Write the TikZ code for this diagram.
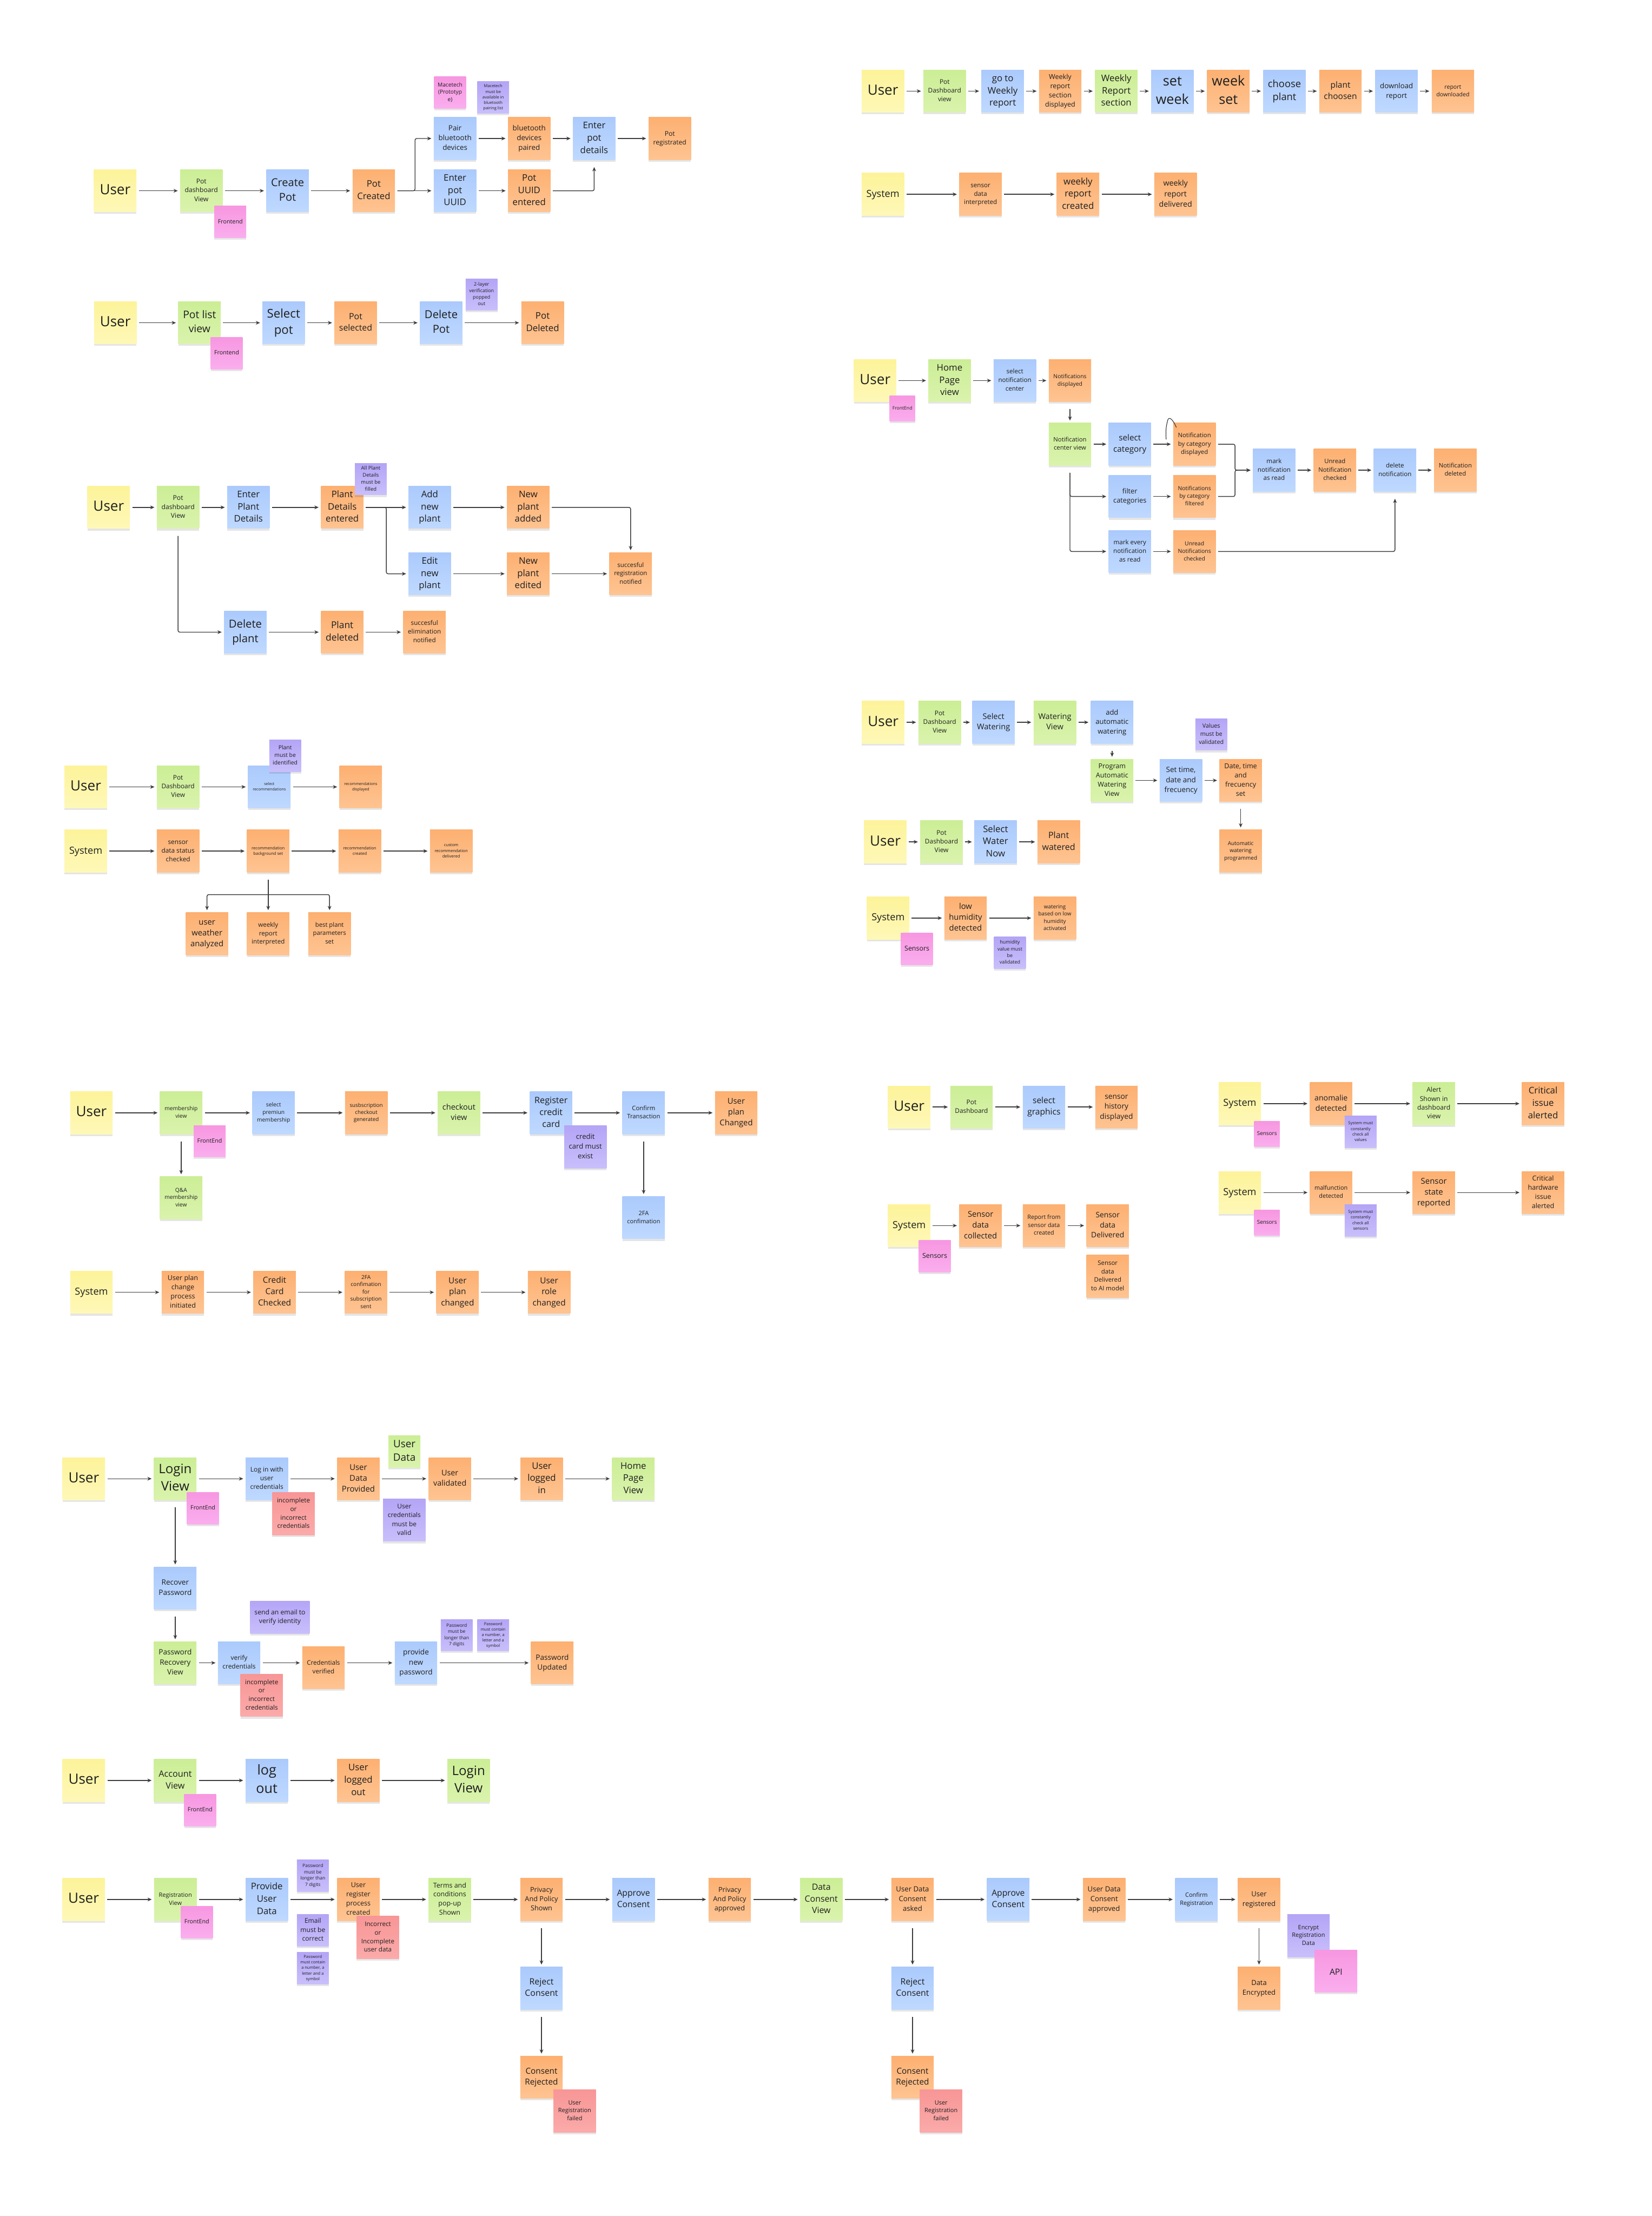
\documentclass[tikz,border=0pt]{standalone}
\usepackage{fontspec}
\setmainfont{Open Sans}
\usepackage{graphicx}
\usetikzlibrary{arrows.meta,shadows,calc}
\definecolor{yT}{HTML}{FDF39A}\definecolor{yB}{HTML}{FEF8B8}
\definecolor{gT}{HTML}{CCEE96}\definecolor{gB}{HTML}{DAF3AD}
\definecolor{bT}{HTML}{ABCAFC}\definecolor{bB}{HTML}{BFD9FF}
\definecolor{oT}{HTML}{FDB071}\definecolor{oB}{HTML}{FEC492}
\definecolor{pT}{HTML}{F797E1}\definecolor{pB}{HTML}{FAAEEE}
\definecolor{vT}{HTML}{B4A5F6}\definecolor{vB}{HTML}{C9BFFB}
\definecolor{sT}{HTML}{F89696}\definecolor{sB}{HTML}{FBAAAA}
\definecolor{txt}{HTML}{1E1E1E}
\definecolor{lnc}{HTML}{3C3C3C}
\newsavebox\nbox
\newdimen\nbw \newdimen\nbh
\newcommand\fitwh[3]{%
  \sbox\nbox{\fontsize{10}{13.5}\selectfont\begin{tabular}{@{}c@{}}#3\end{tabular}}%
  \nbw=\wd\nbox \nbh=\ht\nbox \advance\nbh by \dp\nbox
  \pgfmathsetmacro\nsc{min(1,(#1)/\nbw,(#2)/\nbh)}%
  \scalebox{\nsc}{\usebox\nbox}}
\tikzset{
  note/.style={rectangle, inner sep=0pt, minimum width=#1pt, minimum height=#1pt, text=txt,
    drop shadow={shadow xshift=0pt,shadow yshift=-1.4pt,opacity=0.10,fill=black}},
  cY/.style={top color=yT,bottom color=yB},
  cG/.style={top color=gT,bottom color=gB},
  cB/.style={top color=bT,bottom color=bB},
  cO/.style={top color=oT,bottom color=oB},
  cP/.style={top color=pT,bottom color=pB},
  cV/.style={top color=vT,bottom color=vB},
  cS/.style={top color=sT,bottom color=sB},
  ln/.style={draw=lnc, line width=0.55pt, rounded corners=1.2pt},
  arr/.style={ln, -{Stealth[length=3pt,width=2.6pt]}, shorten <=1.5pt, shorten >=1.5pt},
  arr0/.style={arr, shorten <=0pt},
  varr/.style={arr, shorten <=5pt},
}
\newcommand\stk[5][30]{\node[note=#1,#2] (#3) at (#4) {\fitwh{0.78*#1}{0.867*#1}{#5}};}
\begin{document}
\begin{tikzpicture}[x=1pt,y=-1pt]
\fill[white] (0,0) rectangle (1169,1568);
\useasboundingbox (0,0) rectangle (1169,1568);
% ---------------- Group A
\stk{cY}{a1}{81.5,135}{User}
\stk{cG}{a2}{142.5,135}{Pot\\dashboard\\View}
\stk{cB}{a3}{203.5,135}{Create\\Pot}
\stk{cO}{a4}{264.5,135}{Pot\\Created}
\stk{cB}{a5}{322,98}{Pair\\bluetooth\\devices}
\stk{cB}{a6}{322,135}{Enter\\pot\\UUID}
\stk{cO}{a7}{374.5,98}{bluetooth\\devices\\paired}
\stk{cO}{a8}{374.5,135}{Pot\\UUID\\entered}
\stk{cB}{a9}{420.5,98}{Enter\\pot\\details}
\stk{cO}{a10}{474,98}{Pot\\registrated}
\stk[22.5]{cP}{a11}{163,157}{Frontend}
\stk[22.5]{cP}{a12}{318.5,65.5}{Macetech\\(Prototyp\\e)}
\stk[22.5]{cV}{a13}{349,69}{Macetech\\must be\\available in\\bluetooth\\pairing list}
% ---------------- Group B
\stk{cY}{b1}{624.8,64.5}{User}
\stk{cG}{b2}{668.5,64.5}{Pot\\Dashboard\\view}
\stk{cB}{b3}{709.6,64.5}{go to\\Weekly\\report}
\stk{cO}{b4}{750.3,64.5}{Weekly\\report\\section\\displayed}
\stk{cG}{b5}{790,64.5}{Weekly\\Report\\section}
\stk{cB}{b6}{829.7,64.5}{set\\week}
\stk{cO}{b7}{869.3,64.5}{week\\set}
\stk{cB}{b8}{909,64.5}{choose\\plant}
\stk{cO}{b9}{948.6,64.5}{plant\\choosen}
\stk{cB}{b10}{988.3,64.5}{download\\report}
\stk{cO}{b11}{1028.2,64.5}{report\\downloaded}
\stk{cY}{b12}{624.8,137.5}{System}
\stk{cO}{b13}{693.9,137.5}{sensor\\data\\interpreted}
\stk{cO}{b14}{762.9,137.5}{weekly\\report\\created}
\stk{cO}{b15}{831.9,137.5}{weekly\\report\\delivered}
% ---------------- Group C
\stk{cY}{c1}{81.6,228.4}{User}
\stk{cG}{c2}{141.2,228.4}{Pot list\\view}
\stk{cB}{c3}{200.7,228.4}{Select\\pot}
\stk{cO}{c4}{251.7,228.4}{Pot\\selected}
\stk{cB}{c5}{312.2,228.4}{Delete\\Pot}
\stk{cO}{c6}{384,228.4}{Pot\\Deleted}
\stk[22.5]{cP}{c7}{160.4,250}{Frontend}
\stk[22.5]{cV}{c8}{340.8,208.4}{2-layer\\verification\\popped\\out}
% ---------------- Group D
\stk{cY}{d1}{619.3,269.3}{User}
\stk{cG}{d2}{672,269.3}{Home\\Page\\view}
\stk{cB}{d3}{718.2,269.3}{select\\notification\\center}
\stk{cO}{d4}{757.2,269.3}{Notifications\\displayed}
\stk{cG}{d5}{757.2,314.3}{Notification\\center view}
\stk{cB}{d6}{799.6,314.3}{select\\category}
\stk{cO}{d7}{845.3,314.3}{Notification\\by category\\displayed}
\stk{cB}{d8}{799.6,351.3}{filter\\categories}
\stk{cO}{d9}{845.3,351.3}{Notifications\\by category\\filtered}
\stk{cB}{d10}{799.6,390.2}{mark every\\notification\\as read}
\stk{cO}{d11}{845.3,390.2}{Unread\\Notifications\\checked}
\stk{cB}{d12}{901.7,332.7}{mark\\notification\\as read}
\stk{cO}{d13}{944.7,332.7}{Unread\\Notification\\checked}
\stk{cB}{d14}{987.2,332.7}{delete\\notification}
\stk{cO}{d15}{1029.9,332.7}{Notification\\deleted}
\stk[18]{cP}{d16}{638.6,289}{FrontEnd}
% ---------------- Group E
\stk{cY}{e1}{76.9,359}{User}
\stk{cG}{e2}{126,359}{Pot\\dashboard\\View}
\stk{cB}{e3}{175.8,359}{Enter\\Plant\\Details}
\stk{cO}{e4}{242.2,359}{Plant\\Details\\entered}
\stk{cB}{e5}{304.1,359}{Add\\new\\plant}
\stk{cO}{e6}{373.8,359}{New\\plant\\added}
\stk{cB}{e7}{304.1,406}{Edit\\new\\plant}
\stk{cO}{e8}{373.8,406}{New\\plant\\edited}
\stk{cO}{e9}{446.3,406}{succesful\\registration\\notified}
\stk{cB}{e10}{173.6,447.3}{Delete\\plant}
\stk{cO}{e11}{242.2,447.3}{Plant\\deleted}
\stk{cO}{e12}{300.4,447.3}{succesful\\elimination\\notified}
\stk[22.5]{cV}{e13}{262.4,339}{All Plant\\Details\\must be\\filled}
% ---------------- Group F
\stk{cY}{f1}{60.7,556.8}{User}
\stk{cG}{f2}{126,556.8}{Pot\\Dashboard\\View}
\stk{cB}{f3}{190.6,556.8}{select\\recommendations}
\stk{cO}{f4}{255.3,556.8}{recommendations\\displayed}
\stk[22.5]{cV}{f5}{201.8,534.7}{Plant\\must be\\identified}
\stk{cY}{f6}{60.7,602.2}{System}
\stk{cO}{f7}{126,602.2}{sensor\\data status\\checked}
\stk{cO}{f8}{189.8,602.2}{recommendation\\background set}
\stk{cO}{f9}{254.6,602.2}{recommendation\\created}
\stk{cO}{f10}{319.3,602.2}{custom\\recommendation\\delivered}
\stk{cO}{f11}{146.5,660.7}{user\\weather\\analyzed}
\stk{cO}{f12}{189.8,660.7}{weekly\\report\\interpreted}
\stk{cO}{f13}{233.2,660.7}{best plant\\parameters\\set}
% ---------------- Group G
\stk{cY}{g1}{625,511.1}{User}
\stk{cG}{g2}{665,511.1}{Pot\\Dashboard\\View}
\stk{cB}{g3}{703.1,511.1}{Select\\Watering}
\stk{cG}{g4}{746.5,511.1}{Watering\\View}
\stk{cB}{g5}{787,511.1}{add\\automatic\\watering}
\stk{cG}{g6}{787,552.2}{Program\\Automatic\\Watering\\View}
\stk{cB}{g7}{835.7,552.2}{Set time,\\date and\\frecuency}
\stk{cO}{g8}{878,552.2}{Date, time\\and\\frecuency\\set}
\stk{cO}{g9}{878,602.2}{Automatic\\watering\\programmed}
\stk[22.5]{cV}{g10}{857.2,519.7}{Values\\must be\\validated}
\stk{cY}{g11}{626.5,595.7}{User}
\stk{cG}{g12}{666.3,595.7}{Pot\\Dashboard\\View}
\stk{cB}{g13}{704.5,595.7}{Select\\Water\\Now}
\stk{cO}{g14}{749.2,595.7}{Plant\\watered}
\stk{cY}{g15}{628.5,649.6}{System}
\stk{cO}{g16}{683.3,649.6}{low\\humidity\\detected}
\stk{cO}{g17}{746.5,649.6}{watering\\based on low\\humidity\\activated}
\stk[22.5]{cP}{g18}{648.9,671.5}{Sensors}
\stk[22.5]{cV}{g19}{714.7,674}{humidity\\value must\\be\\validated}
% ---------------- Group H
\stk{cY}{h1}{64.7,787.4}{User}
\stk{cG}{h2}{128.2,787.4}{membership\\view}
\stk{cB}{h3}{193.6,787.4}{select\\premiun\\membership}
\stk{cO}{h4}{259.2,787.4}{susbscription\\checkout\\generated}
\stk{cG}{h5}{324.8,787.4}{checkout\\view}
\stk{cB}{h6}{390,787.4}{Register\\credit\\card}
\stk{cB}{h7}{455.5,787.4}{Confirm\\Transaction}
\stk{cO}{h8}{521,787.4}{User\\plan\\Changed}
\stk{cG}{h9}{128.2,847.6}{Q\&A\\membership\\view}
\stk{cB}{h10}{455.5,861.6}{2FA\\confimation}
\stk[22.5]{cP}{h11}{148.4,807.5}{FrontEnd}
\stk{cV}{h12}{414.3,811.6}{credit\\card must\\exist}
\stk{cY}{h13}{64.7,914.4}{System}
\stk{cO}{h14}{129.4,914.4}{User plan\\change\\process\\initiated}
\stk{cO}{h15}{194.3,914.4}{Credit\\Card\\Checked}
\stk{cO}{h16}{259,914.4}{2FA\\confimation\\for\\subscription\\sent}
\stk{cO}{h17}{323.8,914.4}{User\\plan\\changed}
\stk{cO}{h18}{388.6,914.4}{User\\role\\changed}
% ---------------- Group I
\stk{cY}{i1}{643.4,783.3}{User}
\stk{cG}{i2}{687.5,783.3}{Pot\\Dashboard}
\stk{cB}{i3}{738.8,783.3}{select\\graphics}
\stk{cO}{i4}{790.1,783.3}{sensor\\history\\displayed}
\stk{cY}{i5}{643.4,867.2}{System}
\stk{cO}{i6}{693.9,867.2}{Sensor\\data\\collected}
\stk{cO}{i7}{738.8,867.2}{Report from\\sensor data\\created}
\stk{cO}{i8}{783.9,867.2}{Sensor\\data\\Delivered}
\stk{cO}{i9}{783.9,903}{Sensor\\data\\Delivered\\to AI model}
\stk[22.5]{cP}{i10}{661.5,888.8}{Sensors}
\stk{cY}{i11}{877.4,780.9}{System}
\stk{cO}{i12}{942,780.9}{anomalie\\detected}
\stk{cG}{i13}{1014.7,780.9}{Alert\\Shown in\\dashboard\\view}
\stk{cO}{i14}{1092,780.9}{Critical\\issue\\alerted}
\stk[18]{cP}{i15}{896.6,802.3}{Sensors}
\stk[22.5]{cV}{i16}{962.9,800.9}{System must\\constantly\\check all\\values}
\stk{cY}{i17}{877.4,843.8}{System}
\stk{cO}{i18}{942,843.8}{malfunction\\detected}
\stk{cO}{i19}{1014.7,843.8}{Sensor\\state\\reported}
\stk{cO}{i20}{1092,843.8}{Critical\\hardware\\issue\\alerted}
\stk[18]{cP}{i21}{896.6,865.1}{Sensors}
\stk[22.5]{cV}{i22}{962.9,863.6}{System must\\constantly\\check all\\sensors}
% ---------------- Group J
\stk{cY}{j1}{59.3,1046.3}{User}
\stk{cG}{j2}{124,1046.3}{Login\\View}
\stk{cB}{j3}{188.8,1046.3}{Log in with\\user\\credentials}
\stk{cO}{j4}{253.6,1046.3}{User\\Data\\Provided}
\stk{cO}{j5}{318.4,1046.3}{User\\validated}
\stk{cO}{j6}{383.4,1046.3}{User\\logged\\in}
\stk{cG}{j7}{448.2,1046.3}{Home\\Page\\View}
\stk[22.5]{cP}{j8}{143.6,1067.2}{FrontEnd}
\stk{cS}{j9}{207.7,1071.1}{incomplete\\or\\incorrect\\credentials}
\stk[22.5]{cG}{j10}{286.2,1027.1}{User\\Data}
\stk{cV}{j11}{286.1,1075.6}{User\\credentials\\must be\\valid}
\stk{cB}{j12}{124,1123.7}{Recover\\Password}
\stk{cG}{j13}{124,1176.6}{Password\\Recovery\\View}
\stk{cB}{j14}{169.2,1176.6}{verify\\credentials}
\stk{cO}{j15}{228.9,1180}{Credentials\\verified}
\stk{cB}{j16}{294.4,1176.6}{provide\\new\\password}
\stk{cO}{j17}{390.8,1176.6}{Password\\Updated}
\stk{cS}{j18}{185.2,1199.6}{incomplete\\or\\incorrect\\credentials}
\node[note=23,minimum width=42pt,cV] (j19) at (198.1,1144.3) {\fitwh{36}{19.5}{send an email to\\verify identity}};
\stk[22.5]{cV}{j20}{323.2,1157}{Password\\must be\\longer than\\7 digits}
\stk[22.5]{cV}{j21}{349,1157}{Password\\must contain\\a number, a\\letter and a\\symbol}
\stk{cY}{j22}{59.3,1259.8}{User}
\stk{cG}{j23}{124,1259.8}{Account\\View}
\stk{cB}{j24}{188.8,1259.8}{log\\out}
\stk{cO}{j25}{253.6,1259.8}{User\\logged\\out}
\stk{cG}{j26}{331.6,1259.8}{Login\\View}
\stk[22.5]{cP}{j27}{141.6,1280.9}{FrontEnd}
% ---------------- Group K
\stk{cY}{k1}{59.2,1344}{User}
\stk{cG}{k2}{124.1,1344}{Registration\\View}
\stk{cB}{k3}{188.8,1344}{Provide\\User\\Data}
\stk{cO}{k4}{253.6,1344}{User\\register\\process\\created}
\stk{cG}{k5}{318.3,1344}{Terms and\\conditions\\pop-up\\Shown}
\stk{cO}{k6}{383.2,1344}{Privacy\\And Policy\\Shown}
\stk{cB}{k7}{448.3,1344}{Approve\\Consent}
\stk{cO}{k8}{516.4,1344}{Privacy\\And Policy\\approved}
\stk{cG}{k9}{581.2,1344}{Data\\Consent\\View}
\stk{cO}{k10}{645.8,1344}{User Data\\Consent\\asked}
\stk{cB}{k11}{713.5,1344}{Approve\\Consent}
\stk{cO}{k12}{781.4,1344}{User Data\\Consent\\approved}
\stk{cB}{k13}{846.7,1344}{Confirm\\Registration}
\stk{cO}{k14}{891,1344}{User\\registered}
\stk{cB}{k15}{383.2,1406.8}{Reject\\Consent}
\stk{cO}{k16}{383.2,1469.8}{Consent\\Rejected}
\stk{cB}{k17}{645.8,1406.8}{Reject\\Consent}
\stk{cO}{k18}{645.8,1469.8}{Consent\\Rejected}
\stk{cO}{k19}{891,1406.8}{Data\\Encrypted}
\stk[22.5]{cP}{k20}{139.3,1360}{FrontEnd}
\stk[22.5]{cV}{k21}{221.4,1327.1}{Password\\must be\\longer than\\7 digits}
\stk[22.5]{cV}{k22}{221.4,1365.8}{Email\\must be\\correct}
\stk[22.5]{cV}{k23}{221.4,1392.6}{Password\\must contain\\a number, a\\letter and a\\symbol}
\stk{cS}{k24}{267.4,1370.9}{Incorrect\\or\\Incomplete\\user data}
\stk{cS}{k25}{406.7,1493.7}{User\\Registration\\failed}
\stk{cS}{k26}{666,1493.7}{User\\Registration\\failed}
\stk{cV}{k27}{926,1369.7}{Encrypt\\Registration\\Data}
\stk{cP}{k28}{945.5,1394.8}{\scalebox{0.6}{API}}
% ================= connectors
\foreach \p/\q in {a1/a2,a2/a3,a3/a4,a4/a6,a5/a7,a7/a9,a6/a8,a9/a10,
  b1/b2,b2/b3,b3/b4,b4/b5,b5/b6,b6/b7,b7/b8,b8/b9,b9/b10,b10/b11,b12/b13,b13/b14,b14/b15,
  c1/c2,c2/c3,c3/c4,c4/c5,c5/c6,
  d1/d2,d2/d3,d3/d4,d5/d6,d6/d7,d8/d9,d10/d11,d12/d13,d13/d14,d14/d15,
  e1/e2,e2/e3,e3/e4,e4/e5,e5/e6,e7/e8,e8/e9,e10/e11,e11/e12,
  f1/f2,f2/f3,f3/f4,f6/f7,f7/f8,f8/f9,f9/f10,
  g1/g2,g2/g3,g3/g4,g4/g5,g6/g7,g7/g8,g11/g12,g12/g13,g13/g14,g15/g16,g16/g17,
  h1/h2,h2/h3,h3/h4,h4/h5,h5/h6,h6/h7,h7/h8,h13/h14,h14/h15,h15/h16,h16/h17,h17/h18,
  i1/i2,i2/i3,i3/i4,i5/i6,i6/i7,i7/i8,i11/i12,i12/i13,i13/i14,i17/i18,i18/i19,i19/i20,
  j1/j2,j2/j3,j3/j4,j4/j5,j5/j6,j6/j7,j13/j14,j16/j17,j22/j23,j23/j24,j24/j25,j25/j26,
  k1/k2,k2/k3,k3/k4,k4/k5,k5/k6,k6/k7,k7/k8,k8/k9,k9/k10,k10/k11,k11/k12,k12/k13,k13/k14}
  {\draw[arr] (\p) -- (\q);}
\foreach \p/\q in {d4/d5,g5/g6,g8/g9,h2/h9,h7/h10,j2/j12,j12/j13,k6/k15,k15/k16,k10/k17,k17/k18,k14/k19}
  {\draw[varr] (\p) -- (\q);}
% elbows
\draw[arr] (a4.east) -- ++(14,0) |- (a5);
\draw[arr,shorten >=5pt] (a8) -| (a9);
\draw[arr] (d7.east) -- ++(13.5,0) |- (d12);
\draw[arr] (d9.east) -- ++(13.5,0) |- (d12);
\draw[arr0] ([yshift=-5pt]d5.south) |- (d8);
\draw[arr0] ([yshift=-5pt]d5.south) |- (d10);
\draw[arr,shorten >=5pt] (d11) -| (d14);
\draw[ln,line width=0.45pt] (832.5,302.5) .. controls (830,296.5) and (827,294) .. (826,299) .. controls (825,303) and (825,308) .. (825.3,311);
\draw[arr] (e4.east) -- ++(16,0) |- (e7);
\draw[arr] (e6) -| (e9);
\draw[arr0] ([yshift=-5pt]e2.south) |- (e10);
\coordinate (fj) at (189.8,633);
\draw[ln] ([yshift=-5pt]f8.south) -- (fj);
\draw[arr0] (fj) -| (f11);
\draw[arr0] (fj) -- (f12);
\draw[arr0] (fj) -| (f13);
\draw[arr] (j14) -- (j14 -| j15.west);
\draw[arr] (j15.east |- j16) -- (j16);
\end{tikzpicture}
\end{document}
